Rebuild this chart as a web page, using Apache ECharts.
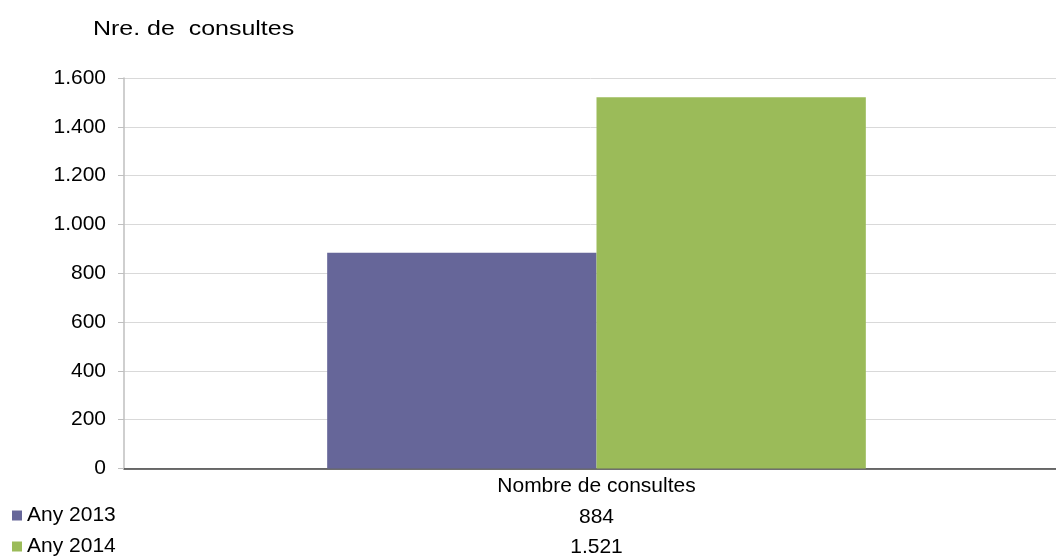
<!DOCTYPE html>
<html><head><meta charset="utf-8">
<script src="https://cdn.jsdelivr.net/npm/echarts@6/dist/echarts.min.js"></script>
<style>html,body{margin:0;padding:0;background:#fff}#c{width:1056px;height:558px}</style>
</head><body><div id="c"></div>
<script>
const categories = ['Nombre de consultes'];
const seriesNames = ['Any 2013', 'Any 2014'];
const values2013 = [884];
const values2014 = [1521];
const yTicks = [0, 200, 400, 600, 800, 1000, 1200, 1400, 1600];
const titleText = 'Nre. de  consultes';

function fmt(v){ return String(v).replace(/\B(?=(\d{3})+(?!\d))/g, '.'); }
const FONT = '"Liberation Sans", Arial, sans-serif';

const chart = echarts.init(document.getElementById('c'));
chart.setOption({
  animation: false,
  textStyle: { fontFamily: FONT },
  graphic: [{
    type: 'text', x: 93, y: 20, scaleX: 1.28,
    style: { text: titleText, fontSize: 19.5, fontFamily: FONT, fill: '#000', verticalAlign: 'top' }
  }],
  legend: {
    orient: 'vertical', left: 7, bottom: -4,
    itemWidth: 10, itemHeight: 10, itemGap: 10, icon: 'rect',
    textStyle: { fontSize: 21, color: '#000', fontFamily: FONT },
    data: seriesNames
  },
  grid: { left: 124, width: 945, top: 78, bottom: 89.5, outerBoundsMode: 'none', containLabel: false },
  xAxis: [
    { type: 'category', data: categories, position: 'bottom',
      axisLine: { lineStyle: { color: '#404040', width: 1.5 } },
      axisTick: { show: false },
      axisLabel: { fontSize: 21, color: '#000', margin: 7 } },
    { type: 'category', data: categories, position: 'bottom', offset: 31,
      axisLine: { show: false }, axisTick: { show: false },
      axisLabel: { fontSize: 21, color: '#000', margin: 7, formatter: (v, i) => fmt(values2013[i]) } },
    { type: 'category', data: categories, position: 'bottom', offset: 61,
      axisLine: { show: false }, axisTick: { show: false },
      axisLabel: { fontSize: 21, color: '#000', margin: 7, formatter: (v, i) => fmt(values2014[i]) } }
  ],
  yAxis: {
    type: 'value', min: yTicks[0], max: yTicks[yTicks.length - 1], interval: yTicks[1] - yTicks[0],
    axisLine: { show: true, lineStyle: { color: '#bfbfbf', width: 1.5 } },
    axisTick: { show: true, length: 6, lineStyle: { color: '#bfbfbf' } },
    axisLabel: { fontSize: 21, color: '#000', margin: 18, formatter: v => fmt(v) },
    splitLine: { lineStyle: { color: '#d9d9d9', width: 1 } }
  },
  series: [
    { name: seriesNames[0], type: 'bar', data: values2013, barGap: 0, barCategoryGap: '43%',
      itemStyle: { color: '#666699' } },
    { name: seriesNames[1], type: 'bar', data: values2014, barGap: 0, barCategoryGap: '43%',
      itemStyle: { color: '#9bbb59' } }
  ]
});
</script></body></html>
